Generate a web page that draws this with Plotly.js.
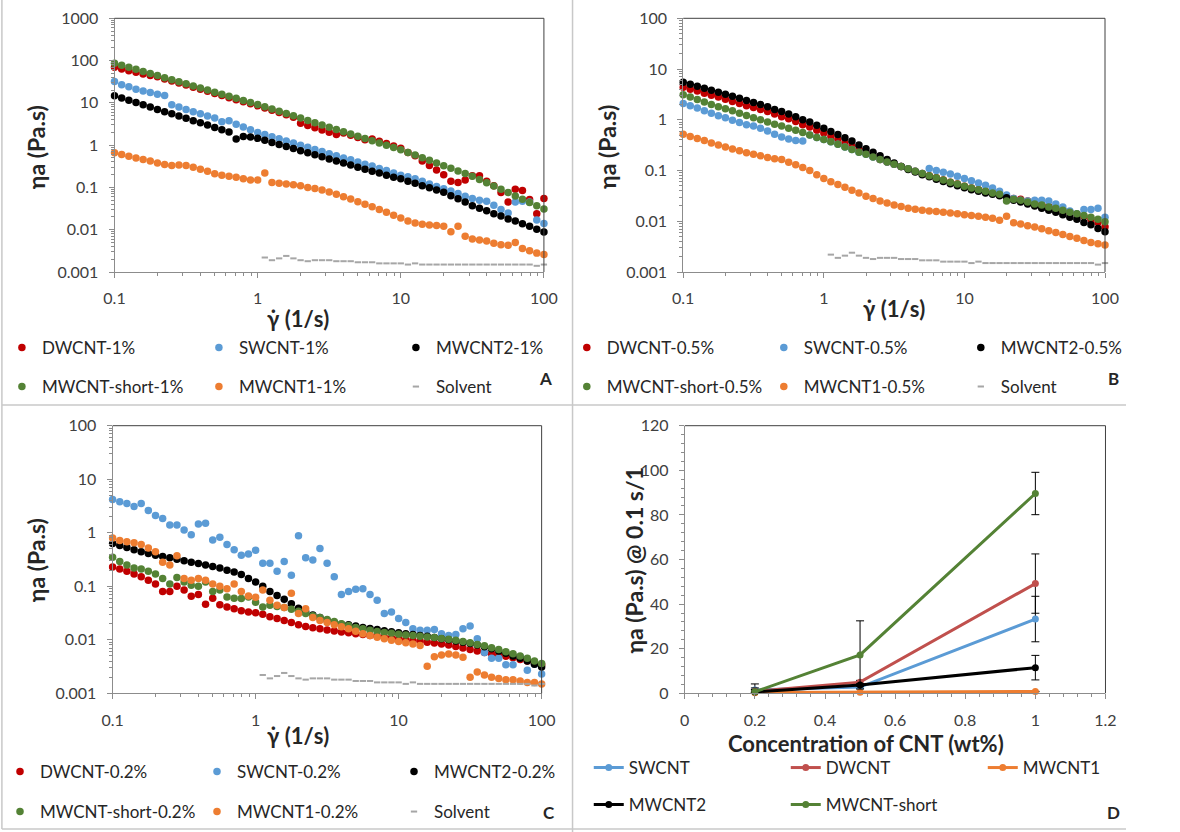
<!DOCTYPE html>
<html><head><meta charset="utf-8">
<script src="https://cdn.plot.ly/plotly-3.0.1.min.js"></script>
<style>html,body{margin:0;padding:0;background:#fff;} #chart{width:1180px;height:832px;}</style>
</head><body><div id="chart"></div>
<script>
// ---------- shared shear-rate grid (1/s) ----------
const shearRate = [0.1,0.1122,0.1259,0.1413,0.1585,0.1778,0.1995,0.2239,0.2512,0.2818,
0.3162,0.3548,0.3981,0.4467,0.5012,0.5623,0.6310,0.7079,0.7943,0.8913,
1,1.122,1.259,1.413,1.585,1.778,1.995,2.239,2.512,2.818,
3.162,3.548,3.981,4.467,5.012,5.623,6.310,7.079,7.943,8.913,
10,11.22,12.59,14.13,15.85,17.78,19.95,22.39,25.12,28.18,
31.62,35.48,39.81,44.67,50.12,56.23,63.10,70.79,79.43,89.13,100];

// ---------- Panel A: 1 wt% ----------
const dwcnt_1 = [69.1,63.3,57.8,52.8,48.3,44.1,41.3,36.9,32.9,29.5,26.3,23.5,21.0,18.8,16.7,14.9,13.3,11.9,10.6,9.5,8.5,7.52,6.65,5.88,5.2,4.6,3.31,2.92,2.58,2.28,2.02,1.78,1.94,1.72,1.52,1.34,1.39,1.23,1.09,0.96,0.85,0.67,0.56,0.42,0.33,0.26,0.2,0.14,0.13,0.15,0.19,0.19,0.14,0.11,0.076,0.045,0.09,0.085,0.052,0.024,0.055];
const swcnt_1 = [32,27,24,21,19,17.5,16,15,9.0,8.0,7.0,6.2,5.5,4.9,4.4,3.6,3.8,3.1,2.7,2.3,2.0,1.78,1.58,1.41,1.26,1.12,1.0,0.89,0.79,0.71,0.63,0.56,0.50,0.45,0.40,0.355,0.32,0.28,0.25,0.22,0.195,0.18,0.16,0.14,0.12,0.105,0.093,0.082,0.072,0.062,0.055,0.05,0.047,0.038,0.03,0.025,0.045,0.047,0.045,0.017,0.014];
const mwcnt2_1 = [14.8,13.1,11.6,10.2,9.0,8.0,7.0,6.2,5.5,4.9,4.3,3.8,3.4,3.0,2.6,2.3,2.05,1.4,1.6,1.55,1.45,1.3,1.16,1.04,0.93,0.83,0.74,0.66,0.59,0.53,0.47,0.42,0.38,0.34,0.30,0.27,0.24,0.22,0.195,0.175,0.16,0.14,0.125,0.11,0.098,0.087,0.077,0.064,0.054,0.045,0.037,0.032,0.028,0.024,0.021,0.018,0.016,0.0138,0.012,0.0103,0.0088];
const mwcntShort_1 = [87,77.8,69.5,62.1,55.5,49.5,44.3,39.5,35.3,31.6,28.2,25.2,22.5,20.1,17.9,16.0,14.3,12.8,11.4,10.2,9.12,8.06,7.13,6.30,5.57,4.93,4.36,3.85,3.40,3.01,2.66,2.35,2.08,1.84,1.63,1.44,1.27,1.12,0.99,0.878,0.776,0.672,0.582,0.504,0.437,0.378,0.327,0.284,0.245,0.213,0.184,0.154,0.129,0.108,0.0902,0.0754,0.0631,0.0528,0.0442,0.0369,0.0309];
const mwcnt1_1 = [0.66,0.60,0.55,0.50,0.46,0.42,0.38,0.35,0.33,0.34,0.33,0.30,0.27,0.24,0.21,0.195,0.185,0.175,0.16,0.15,0.15,0.22,0.13,0.125,0.12,0.115,0.11,0.10,0.095,0.087,0.078,0.069,0.060,0.053,0.046,0.040,0.035,0.030,0.026,0.022,0.019,0.016,0.0145,0.0135,0.013,0.0125,0.012,0.009,0.012,0.007,0.006,0.0057,0.0054,0.0048,0.0044,0.0043,0.005,0.0036,0.0032,0.0028,0.0026];
const solvent = [null,null,null,null,null,null,null,null,null,null,null,null,null,null,null,null,null,null,null,null,null,
0.0022,0.0019,0.0021,0.0024,0.0021,0.0019,0.0018,0.0019,0.0019,
0.0019,0.0018,0.0018,0.0018,0.0017,0.0017,0.0017,0.0016,0.0016,0.0016,
0.0016,0.0015,0.0016,0.0015,0.0015,0.0015,0.0015,0.0015,0.0015,0.0015,
0.0015,0.0015,0.0015,0.0015,0.0015,0.0015,0.0015,0.0015,0.0015,0.0014,0.0015];

// ---------- Panel B: 0.5 wt% ----------
const dwcnt_05 = [4.4,4.0,3.7,3.35,3.05,2.8,2.55,2.3,2.1,1.9,1.75,1.6,1.45,1.3,1.15,1.05,0.92,0.8,0.72,0.62,0.55,0.47,0.41,0.35,0.3,0.26,0.22,0.19,0.165,0.148,0.133,0.12,0.108,0.097,0.087,0.079,0.072,0.065,0.059,0.054,0.049,0.045,0.042,0.039,0.036,0.033,0.03,0.028,0.027,0.025,0.023,0.021,0.0195,0.018,0.0165,0.015,0.0138,0.0125,0.011,0.0095,0.0078];
const swcnt_05 = [2.1,1.9,1.7,1.5,1.35,1.2,1.1,0.98,0.88,0.8,0.75,0.68,0.6,0.52,0.46,0.42,0.39,0.38,0.5,0.45,0.41,0.37,0.33,0.29,0.26,0.23,0.21,0.185,0.165,0.148,0.133,0.12,0.108,0.097,0.087,0.11,0.1,0.092,0.085,0.077,0.07,0.063,0.057,0.051,0.045,0.039,0.033,0.028,0.026,0.025,0.026,0.026,0.025,0.022,0.019,0.016,0.014,0.017,0.017,0.018,0.012];
const mwcnt2_05 = [5.5,5.0,4.6,4.2,3.8,3.5,3.2,2.9,2.65,2.4,2.2,2.0,1.8,1.6,1.45,1.3,1.15,1.0,0.9,0.78,0.68,0.59,0.51,0.44,0.38,0.32,0.27,0.23,0.195,0.165,0.14,0.12,0.105,0.093,0.083,0.075,0.067,0.061,0.055,0.05,0.046,0.042,0.039,0.036,0.034,0.032,0.029,0.026,0.024,0.022,0.02,0.018,0.0165,0.015,0.0135,0.012,0.011,0.0095,0.0085,0.0072,0.0062];
const mwcntShort_05 = [3.1,2.8,2.5,2.25,2.0,1.8,1.65,1.5,1.35,1.22,1.1,1.0,0.9,0.82,0.75,0.68,0.62,0.56,0.5,0.45,0.41,0.37,0.33,0.29,0.26,0.23,0.21,0.185,0.165,0.148,0.133,0.12,0.108,0.097,0.087,0.079,0.072,0.065,0.059,0.054,0.049,0.045,0.042,0.039,0.036,0.034,0.025,0.027,0.026,0.024,0.022,0.021,0.019,0.018,0.0165,0.015,0.014,0.013,0.012,0.011,0.0098];
const mwcnt1_05 = [0.52,0.47,0.43,0.39,0.35,0.32,0.29,0.265,0.245,0.225,0.21,0.195,0.18,0.17,0.165,0.145,0.13,0.115,0.1,0.083,0.07,0.06,0.053,0.047,0.041,0.036,0.031,0.028,0.025,0.023,0.021,0.0195,0.018,0.0172,0.0165,0.016,0.0155,0.015,0.0145,0.014,0.0135,0.013,0.0125,0.012,0.0115,0.0105,0.0125,0.0093,0.0088,0.0082,0.0077,0.0071,0.0065,0.006,0.0055,0.005,0.0046,0.0042,0.0038,0.0036,0.0034];

// ---------- Panel C: 0.2 wt% ----------
const dwcnt_02 = [0.23,0.21,0.19,0.17,0.15,0.13,0.11,0.08,0.08,0.1,0.085,0.065,0.07,0.046,0.06,0.045,0.041,0.038,0.035,0.033,0.032,0.03,0.027,0.025,0.023,0.021,0.019,0.0178,0.0168,0.016,0.0153,0.0146,0.014,0.0135,0.013,0.0125,0.012,0.0116,0.0112,0.0108,0.0104,0.01,0.0097,0.0094,0.009,0.0087,0.0083,0.008,0.0075,0.007,0.0066,0.0062,0.0058,0.0055,0.0052,0.0049,0.0046,0.0043,0.004,0.0037,0.0034];
const swcnt_02 = [4.2,3.8,3.5,3.1,3.5,2.6,2.1,1.85,1.4,1.4,1.12,0.92,1.45,1.5,0.73,0.82,0.6,0.48,0.38,0.4,0.47,0.27,0.27,0.19,0.29,0.16,0.88,0.34,0.31,0.51,0.27,0.15,0.07,0.08,0.088,0.09,0.07,0.055,0.031,0.033,0.025,0.021,0.016,0.015,0.015,0.0155,0.013,0.012,0.0125,0.016,0.018,0.0105,0.0058,0.0045,0.0045,0.0034,0.0034,0.0048,0.0027,0.0035,0.0023];
const mwcnt2_02 = [0.63,0.58,0.53,0.48,0.44,0.41,0.38,0.36,0.34,0.32,0.30,0.28,0.265,0.25,0.235,0.22,0.2,0.185,0.165,0.14,0.12,0.1,0.08,0.067,0.057,0.047,0.039,0.033,0.029,0.026,0.023,0.021,0.0195,0.019,0.018,0.017,0.0162,0.0155,0.0148,0.0142,0.0135,0.013,0.0125,0.012,0.0116,0.011,0.0105,0.01,0.0095,0.009,0.0085,0.008,0.0074,0.0068,0.0062,0.0056,0.005,0.0045,0.004,0.0035,0.0031];
const mwcntShort_02 = [0.35,0.29,0.25,0.22,0.21,0.19,0.17,0.14,0.11,0.145,0.12,0.105,0.1,0.12,0.08,0.085,0.063,0.06,0.059,0.063,0.05,0.041,0.044,0.042,0.04,0.037,0.034,0.031,0.028,0.026,0.024,0.022,0.02,0.0185,0.017,0.016,0.015,0.0143,0.0137,0.0132,0.0127,0.0123,0.012,0.0117,0.0113,0.011,0.0106,0.0102,0.0098,0.0093,0.0088,0.0082,0.0077,0.0071,0.0066,0.006,0.0055,0.005,0.0045,0.004,0.0036];
const mwcnt1_02 = [0.8,0.72,0.68,0.65,0.6,0.52,0.44,0.28,0.25,0.37,0.14,0.13,0.14,0.13,0.11,0.1,0.09,0.11,0.08,0.066,0.062,0.085,0.055,0.044,0.04,0.074,0.031,0.038,0.026,0.023,0.021,0.019,0.0175,0.016,0.0145,0.013,0.012,0.0112,0.0105,0.0098,0.0093,0.0088,0.0083,0.0078,0.0032,0.0048,0.0052,0.0054,0.0052,0.0047,0.002,0.0025,0.0022,0.002,0.0019,0.0018,0.0018,0.0017,0.0016,0.0016,0.0015];

// ---------- Panel D: viscosity at 0.1 1/s vs concentration ----------
const concentration = [0.2, 0.5, 1];
const swcntD = [1.5, 2.8, 33.3],   swcntDErr = [2.7, 0.5, 10.2];
const dwcntD = [0.9, 5.0, 49.2],   dwcntDErr = [1.5, 0.8, 13.3];
const mwcnt1D = [0.3, 0.5, 0.8],   mwcnt1DErr = [0.1, 0.1, 0.1];
const mwcnt2D = [0.6, 3.7, 11.5],  mwcnt2DErr = [0.4, 0.6, 5.5];
const shortD = [0.7, 17.2, 89.6],  shortDErr = [1.0, 15.3, 9.5];

// ---------- tick labels ----------
const xLogTickVals = [0.1, 1, 10, 100];
const xLogTickText = ['0.1', '1', '10', '100'];
const yLogTickValsA = [0.001, 0.01, 0.1, 1, 10, 100, 1000];
const yLogTickTextA = ['0.001', '0.01', '0.1', '1', '10', '100', '1000'];
const yLogTickValsBC = [0.001, 0.01, 0.1, 1, 10, 100];
const yLogTickTextBC = ['0.001', '0.01', '0.1', '1', '10', '100'];

// ---------- styling ----------
const W = 1180, H = 832;
const FONT = 'Lato, "Open Sans", "DejaVu Sans", sans-serif';
const C = {dw:'#C00000', sw:'#5B9BD5', mw2:'#000000', sh:'#548235', mw1:'#ED7D31', solv:'#A6A6A6'};
const CD = {sw:'#5B9BD5', dw:'#C0504D', mw1:'#ED7D31', mw2:'#000000', sh:'#548235'};
const px = v => v / W, py = v => 1 - v / H;

function dots(name, y, color, ax, legend) {
  return {type:'scatter', mode:'markers', name, x: shearRate, y, xaxis:'x'+ax, yaxis:'y'+ax, legend,
    cliponaxis:false, hoverinfo:'skip', marker:{size:7.5, color}};
}
function solv(ax, legend) {
  return {type:'scatter', mode:'markers', name:'Solvent', x: shearRate, y: solvent, xaxis:'x'+ax, yaxis:'y'+ax, legend,
    cliponaxis:false, hoverinfo:'skip', marker:{symbol:'line-ew', size:4.5, color:C.solv, line:{width:2, color:C.solv}}};
}
function lineD(name, y, err, color, legend) {
  return {type:'scatter', mode:'lines+markers', name, x: concentration, y, xaxis:'x4', yaxis:'y4', legend,
    cliponaxis:false, hoverinfo:'skip', line:{color, width:3}, marker:{size:7, color},
    error_y:{type:'data', array:err, visible:true, color:'#000000', thickness:1, width:4}};
}

const traces = [
  dots('DWCNT-1%', dwcnt_1, C.dw, '', 'legend'),
  dots('SWCNT-1%', swcnt_1, C.sw, '', 'legend'),
  dots('MWCNT2-1%', mwcnt2_1, C.mw2, '', 'legend'),
  dots('MWCNT-short-1%', mwcntShort_1, C.sh, '', 'legend2'),
  dots('MWCNT1-1%', mwcnt1_1, C.mw1, '', 'legend2'),
  solv('', 'legend2'),

  dots('DWCNT-0.5%', dwcnt_05, C.dw, '2', 'legend3'),
  dots('SWCNT-0.5%', swcnt_05, C.sw, '2', 'legend3'),
  dots('MWCNT2-0.5%', mwcnt2_05, C.mw2, '2', 'legend3'),
  dots('MWCNT-short-0.5%', mwcntShort_05, C.sh, '2', 'legend4'),
  dots('MWCNT1-0.5%', mwcnt1_05, C.mw1, '2', 'legend4'),
  solv('2', 'legend4'),

  dots('DWCNT-0.2%', dwcnt_02, C.dw, '3', 'legend5'),
  dots('SWCNT-0.2%', swcnt_02, C.sw, '3', 'legend5'),
  dots('MWCNT2-0.2%', mwcnt2_02, C.mw2, '3', 'legend5'),
  dots('MWCNT-short-0.2%', mwcntShort_02, C.sh, '3', 'legend6'),
  dots('MWCNT1-0.2%', mwcnt1_02, C.mw1, '3', 'legend6'),
  solv('3', 'legend6'),

  lineD('SWCNT', swcntD, swcntDErr, CD.sw, 'legend7'),
  lineD('DWCNT', dwcntD, dwcntDErr, CD.dw, 'legend7'),
  lineD('MWCNT1', mwcnt1D, mwcnt1DErr, CD.mw1, 'legend7'),
  lineD('MWCNT2', mwcnt2D, mwcnt2DErr, CD.mw2, 'legend8'),
  lineD('MWCNT-short', shortD, shortDErr, CD.sh, 'legend8')
];

function minorLog(e0, e1) {
  const v = [];
  for (let e = e0; e < e1; e++) for (let m = 2; m <= 9; m++) v.push(m * Math.pow(10, e));
  return v;
}
const axisBase = {
  showline:true, linecolor:'#8C8C8C', linewidth:1, mirror:false, ticks:'outside', ticklen:5,
  tickcolor:'#8C8C8C', showgrid:false, zeroline:false, ticklabelstandoff:7,
  tickfont:{family:FONT, size:16, color:'#404040'}
};
function logAxis(dom, anchor, range, vals, text) {
  return Object.assign({}, axisBase, {type:'log', domain:dom, anchor, range, tickmode:'array', tickvals:vals, ticktext:text,
    minor:{tickmode:'array', tickvals:minorLog(range[0], range[1]), ticks:'outside', ticklen:3, tickcolor:'#8C8C8C', showgrid:false}});
}
const domA_x = [px(120), px(570)], domB_x = [px(716), px(1158)];
const domC_x = [px(118), px(567.6)], domD_x = [px(717.6), px(1158.5)];
const domTop_y = [py(272), py(18.3)], domBot_y = [py(693.3), py(425.7)];

function legendCfg(xpx, ypx) {
  return {orientation:'h', x:px(xpx), y:py(ypx), xref:'paper', yref:'paper', xanchor:'left', yanchor:'middle',
    entrywidth:152, entrywidthmode:'pixels', bgcolor:'rgba(0,0,0,0)', borderwidth:0, tracegroupgap:0,
    font:{family:FONT, size:17, color:'#262626'}, itemclick:false, itemdoubleclick:false};
}
function title(text, x, y, angle, size) {
  return {text:'<b>'+text+'</b>', x:px(x), y:py(y), xref:'paper', yref:'paper', showarrow:false,
    xanchor:'center', yanchor:'middle', textangle:angle || 0, font:{family:FONT, size:size || 22, color:'#262626'}};
}
function line(x0, y0, x1, y1) {
  return {type:'line', xref:'paper', yref:'paper', x0:px(x0), y0:py(y0), x1:px(x1), y1:py(y1), line:{color:'#C8C8C8', width:1.5}};
}
function frame(xa, ya) {
  return [
    {type:'line', xref:xa+' domain', yref:ya+' domain', x0:0, x1:1, y0:1, y1:1, line:{color:'#404040', width:1}},
    {type:'line', xref:xa+' domain', yref:ya+' domain', x0:1, x1:1, y0:0, y1:1, line:{color:'#404040', width:1}}
  ];
}

const layout = {
  width:W, height:H, margin:{l:0, r:0, t:0, b:0}, paper_bgcolor:'#ffffff', plot_bgcolor:'#ffffff',
  showlegend:true, font:{family:FONT},
  xaxis: logAxis(domA_x, 'y', [-1, 2], xLogTickVals, xLogTickText),
  yaxis: logAxis(domTop_y, 'x', [-3, 3], yLogTickValsA, yLogTickTextA),
  xaxis2: logAxis(domB_x, 'y2', [-1, 2], xLogTickVals, xLogTickText),
  yaxis2: logAxis(domTop_y, 'x2', [-3, 2], yLogTickValsBC, yLogTickTextBC),
  xaxis3: logAxis(domC_x, 'y3', [-1, 2], xLogTickVals, xLogTickText),
  yaxis3: logAxis(domBot_y, 'x3', [-3, 2], yLogTickValsBC, yLogTickTextBC),
  xaxis4: Object.assign({}, axisBase, {domain:domD_x, anchor:'y4', range:[0, 1.2], dtick:0.2, tick0:0,
    minor:{dtick:0.04, ticks:'outside', ticklen:3, tickcolor:'#8C8C8C', showgrid:false}}),
  yaxis4: Object.assign({}, axisBase, {domain:domBot_y, anchor:'x4', range:[0, 120], dtick:20, tick0:0,
    minor:{dtick:4, ticks:'outside', ticklen:3, tickcolor:'#8C8C8C', showgrid:false}}),
  legend: legendCfg(2, 348), legend2: legendCfg(2, 387),
  legend3: legendCfg(594, 348), legend4: legendCfg(594, 387),
  legend5: legendCfg(0, 772), legend6: legendCfg(0, 812),
  legend7: legendCfg(617, 768), legend8: legendCfg(617, 805),
  annotations: [
    title('ηa (Pa.s)', 38, 147, -90, 23), title('γ̇ (1/s)', 312, 318),
    title('ηa (Pa.s)', 636, 147, -90, 23), title('γ̇ (1/s)', 937, 308),
    title('ηa (Pa.s)', 38, 560, -90, 23), title('γ̇ (1/s)', 312, 735),
    title('ηa (Pa.s) @ 0.1 s/1', 664, 560, -90, 23), title('Concentration of CNT (wt%)', 908, 743),
    title('A', 572, 378, 0, 17), title('B', 1167, 378, 0, 17),
    title('C', 575, 812, 0, 17), title('D', 1167, 812, 0, 17)
  ],
  shapes: [].concat(
    frame('x', 'y'), frame('x2', 'y2'), frame('x3', 'y3'), frame('x4', 'y4'),
    [line(600, 0, 600, 832), line(2, 405, 1180, 405), line(2, 0, 2, 829), line(2, 829, 1180, 829)]
  )
};

Plotly.newPlot('chart', traces, layout, {displayModeBar:false, staticPlot:true});
</script>
</body></html>
